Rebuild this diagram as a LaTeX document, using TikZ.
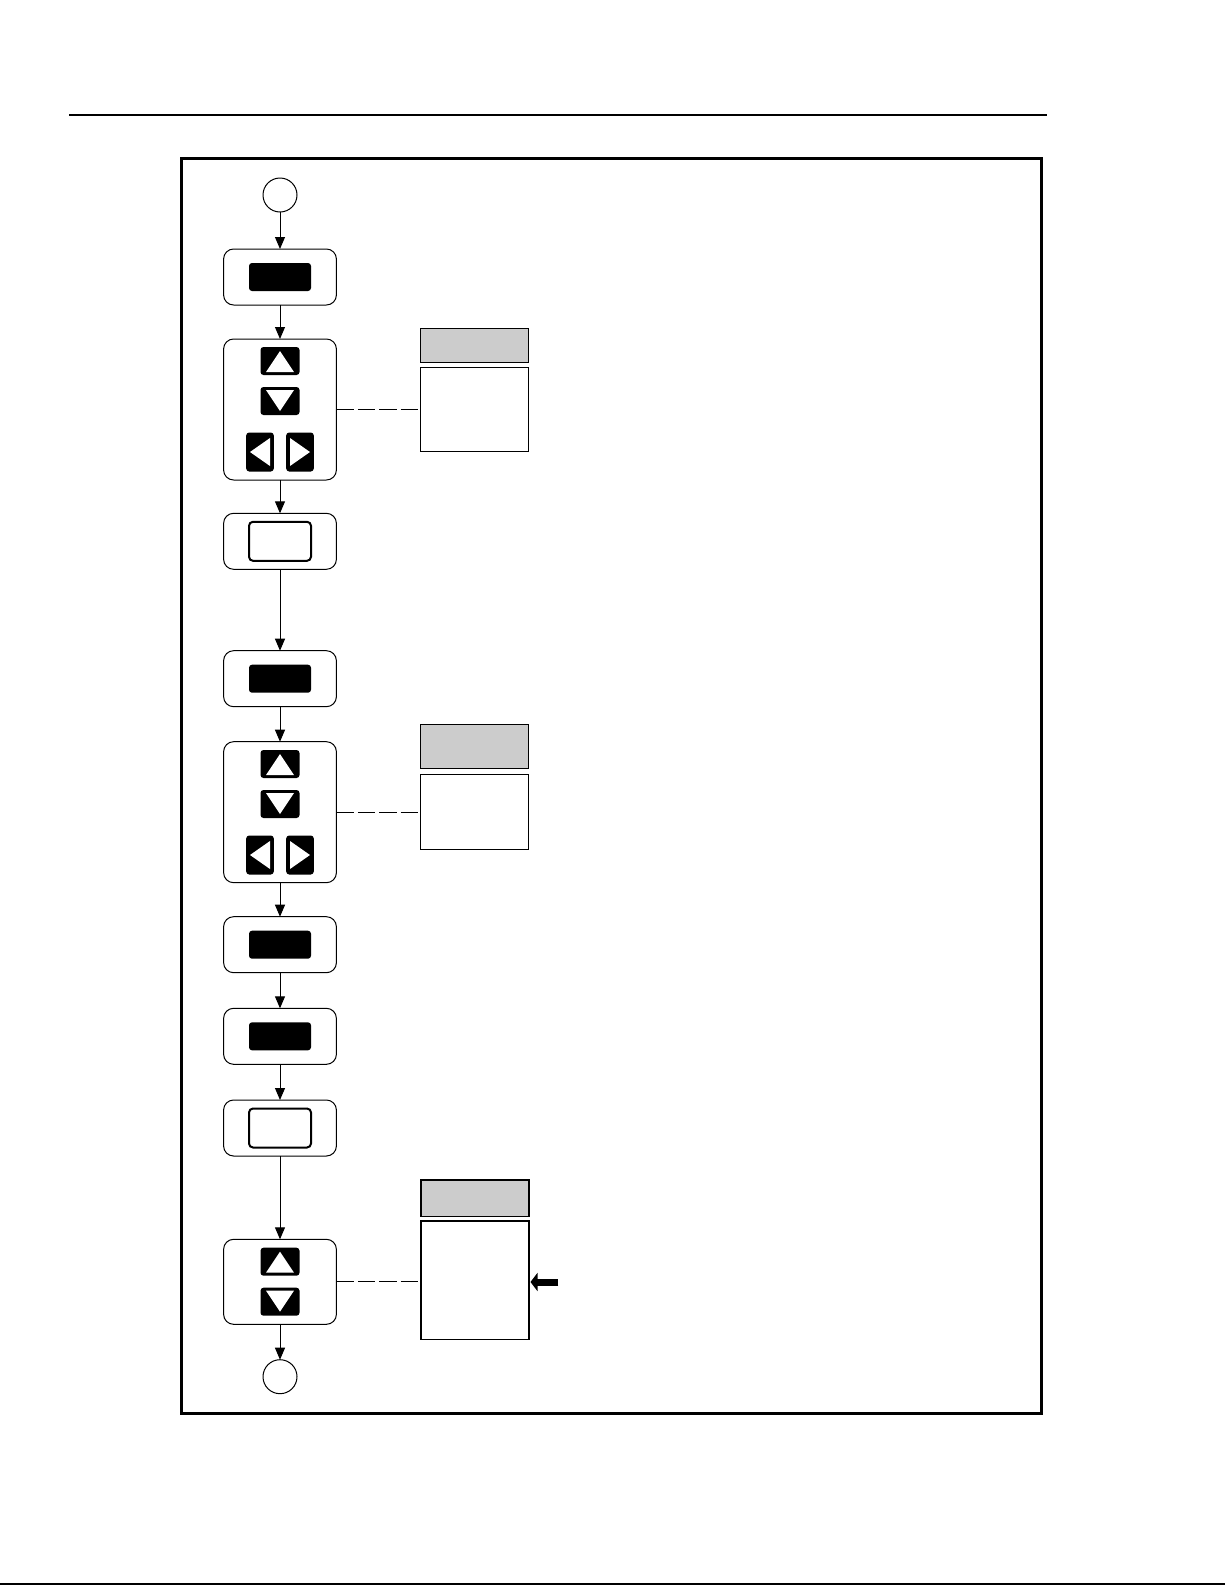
\documentclass[tikz,border=0pt]{standalone}
\usepackage{tikz}
\usetikzlibrary{arrows.meta,positioning,calc}
\definecolor{fkgray}{HTML}{CCCCCC}
\tikzset{
  term/.style={circle,draw,line width=0.5pt,minimum size=17pt,inner sep=0pt,outer sep=0pt},
  panel/.style={draw,line width=0.5pt,rounded corners=5pt,minimum width=56.4pt,inner sep=0pt,outer sep=0pt},
  keyb/.style={fill=black,rounded corners=1.5pt,minimum width=31pt,minimum height=14pt,inner sep=0pt},
  keyw/.style={draw,line width=1pt,fill=white,rounded corners=2pt,minimum width=31pt,minimum height=19.5pt,inner sep=0pt},
  keyud/.style={fill=black,rounded corners=1.5pt,minimum width=19.5pt,minimum height=14pt,inner sep=0pt},
  keylr/.style={fill=black,rounded corners=1.5pt,minimum width=13.8pt,minimum height=19.5pt,inner sep=0pt},
  nhead/.style={draw,line width=0.6pt,fill=fkgray,minimum width=54pt,inner sep=0pt,outer sep=0pt},
  nbody/.style={draw,line width=0.6pt,fill=white,minimum width=54pt,inner sep=0pt,outer sep=0pt},
  arr/.style={-{Triangle[length=6pt,width=5pt]},line width=0.5pt},
  dsh/.style={line width=0.5pt,dash pattern=on 8.7pt off 2pt},
}

\begin{document}
\begin{tikzpicture}[x=0.5pt,y=-0.5pt]
\useasboundingbox (0,0) rectangle (1225,1585);
% page rules and frame
\draw[line width=1pt] (69,115) -- (1047,115);
\draw[line width=1pt] (0,1583.5) -- (1225,1583.5);
\draw[line width=1.3pt] (181.7,158.3) rectangle (1041.7,1413.3);

% flow column
\node[term] (st) at (280,195) {};
\node[panel,minimum height=28pt] (b1) at (280,277) {};
\node[keyb] (k1) at (b1) {};
\node[panel,minimum height=70.5pt] (b2) at (280,409.5) {};
\node[keyud] (u1) at (280,361) {}; \node[keyud] (d1) at (280,401) {};
\node[keylr] (l1) at (260,452) {}; \node[keylr] (r1) at (300,452) {};
\node[panel,minimum height=28pt] (b3) at (280,541.3) {};
\node[keyw] (w1) at (b3) {};
\node[panel,minimum height=28pt] (b4) at (280,678.7) {};
\node[keyb] (k2) at (b4) {};
\node[panel,minimum height=70.5pt] (b5) at (280,812.2) {};
\node[keyud] (u2) at (280,764) {}; \node[keyud] (d2) at (280,804) {};
\node[keylr] (l2) at (260,855) {}; \node[keylr] (r2) at (300,855) {};
\node[panel,minimum height=28pt] (b6) at (280,944.7) {};
\node[keyb] (k3) at (b6) {};
\node[panel,minimum height=28pt] (b7) at (280,1036.3) {};
\node[keyb] (k4) at (b7) {};
\node[panel,minimum height=28pt] (b8) at (280,1128) {};
\node[keyw] (w2) at (b8) {};
\node[panel,minimum height=42.5pt] (b9) at (280,1281.8) {};
\node[keyud] (u3) at (280,1261.7) {}; \node[keyud] (d3) at (280,1301.7) {};
\node[term] (en) at (280,1376.7) {};

% arrow glyphs on the keys
\foreach \k in {u1,u2,u3}
  \fill[white] ([shift={(-14,11)}]\k.center) -- ([shift={(14,11)}]\k.center) -- ([shift={(0,-10)}]\k.center) -- cycle;
\foreach \k in {d1,d2,d3}
  \fill[white] ([shift={(-14,-11)}]\k.center) -- ([shift={(14,-11)}]\k.center) -- ([shift={(0,10)}]\k.center) -- cycle;
\foreach \k in {l1,l2}
  \fill[white] ([shift={(10,-14)}]\k.center) -- ([shift={(10,14)}]\k.center) -- ([shift={(-10,0)}]\k.center) -- cycle;
\foreach \k in {r1,r2}
  \fill[white] ([shift={(-10,-14)}]\k.center) -- ([shift={(-10,14)}]\k.center) -- ([shift={(10,0)}]\k.center) -- cycle;

% display notes
\node[nhead,minimum height=17pt] (h1) at (474.7,345.3) {};
\node[nbody,minimum height=42.2pt] (n1) at (474.7,409.5) {};
\node[nhead,minimum height=22pt] (h2) at (474.7,746.3) {};
\node[nbody,minimum height=37.5pt] (n2) at (474.7,811.8) {};
\node[nhead,minimum height=18.35pt] (h3) at (475,1198.3) {};
\node[nbody,minimum height=59.15pt] (n3) at (475,1280.2) {};

% connectors
\draw[arr] (st)--(b1); \draw[arr] (b1)--(b2); \draw[arr] (b2)--(b3);
\draw[arr] (b3)--(b4); \draw[arr] (b4)--(b5); \draw[arr] (b5)--(b6);
\draw[arr] (b6)--(b7); \draw[arr] (b7)--(b8); \draw[arr] (b8)--(b9);
\draw[arr] (b9)--(en);
\draw[dsh] (b2.east) -- (b2.east -| n1.west);
\draw[dsh] (b5.east) -- (b5.east -| n2.west);
\draw[dsh] (b9.east) -- (b9.east -| n3.west);
\coordinate (pt) at (558.3,1282);
\draw[line width=3.5pt,-{Triangle[length=3.5pt,width=9pt]}] (pt) -- ([xshift=0.75pt]n3.east |- pt);
\end{tikzpicture}
\end{document}
